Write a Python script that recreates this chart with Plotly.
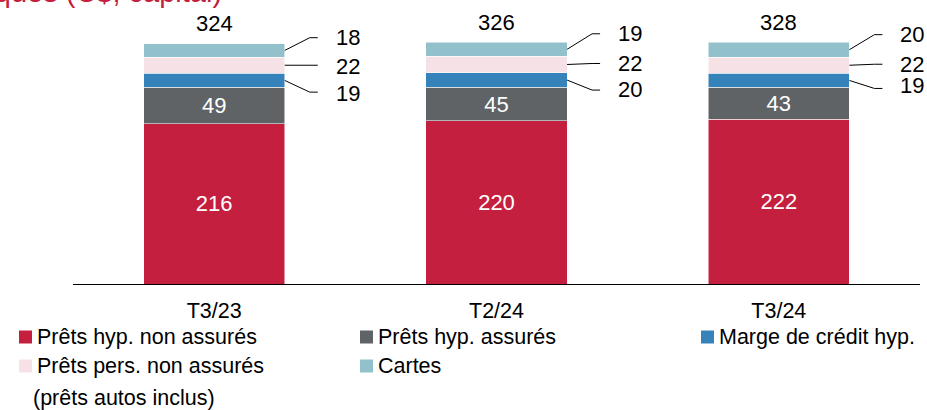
import plotly.graph_objects as go

# ---- data ----
categories = ["T3/23", "T2/24", "T3/24"]
series_names = ["Prêts hyp. non assurés", "Prêts hyp. assurés", "Marge de crédit hyp.",
                "Prêts pers. non assurés", "Cartes"]
uninsured_mortgages = [216, 220, 222]
insured_mortgages = [49, 45, 43]
heloc = [19, 20, 19]
personal_loans = [22, 22, 22]
cards = [18, 19, 20]
totals = [324, 326, 328]

series_values = [uninsured_mortgages, insured_mortgages, heloc, personal_loans, cards]
colors = ["#C41F3E", "#5F6366", "#3682BA", "#F6E1E6", "#93C1CB"]
inside_label = [True, True, False, False, False]

FONT = "Liberation Sans, Arial, sans-serif"
W, H = 927, 410
ML, MR, MT, MB = 73, 7, 20, 126
PW, PH = W - ML - MR, H - MT - MB
YMAX = 356

x = list(range(len(categories)))
fig = go.Figure()
for name, vals, col, lab in zip(series_names, series_values, colors, inside_label):
    fig.add_trace(go.Bar(
        x=x, y=vals, name=name, width=0.5,
        marker=dict(color=col, line=dict(color="rgba(255,255,255,0.7)", width=0.75)),
        text=[str(v) for v in vals] if lab else None,
        textposition="inside" if lab else "none",
        insidetextanchor="middle",
        textfont=dict(family=FONT, size=22, color="white"),
        showlegend=False,
        hoverinfo="name+y",
    ))

annotations = []
shapes = []

# totals above bars
for i, t in enumerate(totals):
    stack_top = sum(s[i] for s in series_values)
    annotations.append(dict(x=i, y=stack_top, xref="x", yref="y", text=str(t),
                            showarrow=False, yanchor="middle", yshift=20,
                            font=dict(family=FONT, size=22, color="black")))

# side labels with leader lines for the three small top segments (pixel offsets)
kink_dx, end_dx, label_dx = 25, 33, 63
line_dy = {2: [-11.7, -10, -8], 3: [0, 1, 1], 4: [12.7, 15.5, 15]}
label_dy = {2: [-13, -9, -5], 3: [-1, 1, 1], 4: [12.7, 15.5, 15]}
for si in (2, 3, 4):
    for i in x:
        base = sum(series_values[k][i] for k in range(si))
        mid = base + series_values[si][i] / 2
        edge = i + 0.25
        dy = line_dy[si][i]
        if dy == 0:
            path = f"M0,0 L{end_dx},0"
        else:
            path = f"M0,0 L{kink_dx},{dy} L{end_dx},{dy}"
        shapes.append(dict(type="path", xref="x", yref="y", xsizemode="pixel", ysizemode="pixel",
                           xanchor=edge, yanchor=mid, path=path,
                           line=dict(color="black", width=1)))
        annotations.append(dict(x=edge, y=mid, xref="x", yref="y", text=str(series_values[si][i]),
                                showarrow=False, xanchor="center", yanchor="middle",
                                xshift=label_dx, yshift=label_dy[si][i],
                                font=dict(family=FONT, size=22, color="black")))

def px(X):
    return (X - ML) / PW

def py(Y):
    return (MT + PH - Y) / PH

# manual legend (3 columns)
legend_items = [
    (0, 19, 337, "Prêts hyp. non assurés"),
    (1, 360, 337, "Prêts hyp. assurés"),
    (2, 701, 337, "Marge de crédit hyp."),
    (3, 19, 366, "Prêts pers. non assurés"),
    (4, 360, 366, "Cartes"),
]
SQ = 13
for si, X, Y, label in legend_items:
    shapes.append(dict(type="rect", xref="paper", yref="paper",
                       x0=px(X), x1=px(X + SQ), y0=py(Y + SQ / 2), y1=py(Y - SQ / 2),
                       fillcolor=colors[si], line=dict(width=0)))
    annotations.append(dict(x=px(X + SQ + 3), y=py(Y), xref="paper", yref="paper", text=label,
                            showarrow=False, xanchor="left", yanchor="middle",
                            font=dict(family=FONT, size=21.5, color="black")))
annotations.append(dict(x=px(31), y=py(398), xref="paper", yref="paper", text="(prêts autos inclus)",
                        showarrow=False, xanchor="left", yanchor="middle",
                        font=dict(family=FONT, size=21.5, color="black")))

# clipped title at the very top
annotations.append(dict(x=px(224), y=py(-8), xref="paper", yref="paper",
                        text="Prêts de détail canadiens – soldes par catégories spécifiques (C$, capital)",
                        showarrow=False, xanchor="right", yanchor="middle",
                        font=dict(family=FONT, size=29, color="#C41F3E")))

fig.update_layout(
    width=W, height=H,
    margin=dict(l=ML, r=MR, t=MT, b=MB, pad=0),
    barmode="stack",
    plot_bgcolor="white", paper_bgcolor="white",
    font=dict(family=FONT, size=21.5, color="black"),
    xaxis=dict(range=[-0.5, 2.5], tickvals=x, ticktext=categories, showline=True,
               linecolor="black", linewidth=1, showgrid=False, zeroline=False, ticks="",
               ticklabelstandoff=7, tickfont=dict(family=FONT, size=21.5, color="black")),
    yaxis=dict(range=[0, YMAX], visible=False, showgrid=False, zeroline=False),
    annotations=annotations,
    shapes=shapes,
    showlegend=False,
)

fig.write_html("out.html", config={"displayModeBar": False},
               post_script="document.body.style.margin='0px';document.body.style.overflow='hidden';")
